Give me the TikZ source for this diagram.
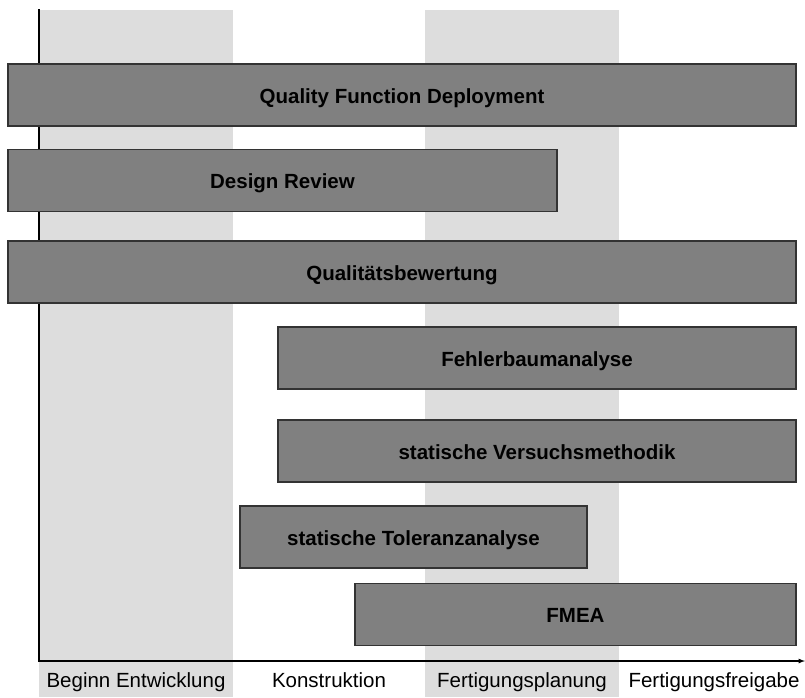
\documentclass[tikz,border=0pt]{standalone}
\usepackage{fontspec}
\setmainfont{Liberation Sans}
\usetikzlibrary{arrows}

\definecolor{bandgray}{RGB}{221,221,221}
\definecolor{bargray}{RGB}{128,128,128}

\tikzset{
    bar/.style={rectangle, draw=black!80, line width=1.2pt, fill=bargray, minimum height=62pt,
        inner sep=0pt, text height=16pt, text depth=0pt, font=\fontsize{20.5}{24}\selectfont\bfseries},
    phase/.style={anchor=base, font=\fontsize{20.5}{24}\selectfont}
}

\begin{document}
\begin{tikzpicture}[x=1pt,y=-1pt]
        \useasboundingbox (0,0) rectangle (805,697);

        % Grey phase bands
        \fill[bandgray] (39,10) rectangle (233,697);
        \fill[bandgray] (425,10) rectangle (619,697);

        % Axes
        \coordinate (top) at (39,9);
        \coordinate (end) at (805,661);
        \draw[line width=1.2pt,-latex] (top) |- (end);

        % Phase labels under the axis
        \node[phase] (entw) at (136,687) {Beginn Entwicklung};
        \node[phase] (konst) at (329,687) {Konstruktion};
        \node[phase] (fplan) at (522,687) {Fertigungsplanung};
        \node[phase] (ffrei) at (714,687) {Fertigungsfreigabe};

        % Methods as bars
        \node[bar, minimum width=788pt] (qfd) at (402,95) {Quality Function Deployment};
        \node[bar, minimum width=549pt] (review) at (282.5,180.5) {Design Review};
        \node[bar, minimum width=788pt] (qbew) at (402,272) {Qualitätsbewertung};
        \node[bar, minimum width=518pt] (fba) at (537,358) {Fehlerbaumanalyse};
        \node[bar, minimum width=518pt] (svm) at (537,451) {statische Versuchsmethodik};
        \node[bar, minimum width=347pt] (sta) at (413.5,537) {statische Toleranzanalyse};
        \node[bar, minimum width=441pt] (fmea) at (575.5,614.5) {FMEA};
    \end{tikzpicture}
\end{document}
